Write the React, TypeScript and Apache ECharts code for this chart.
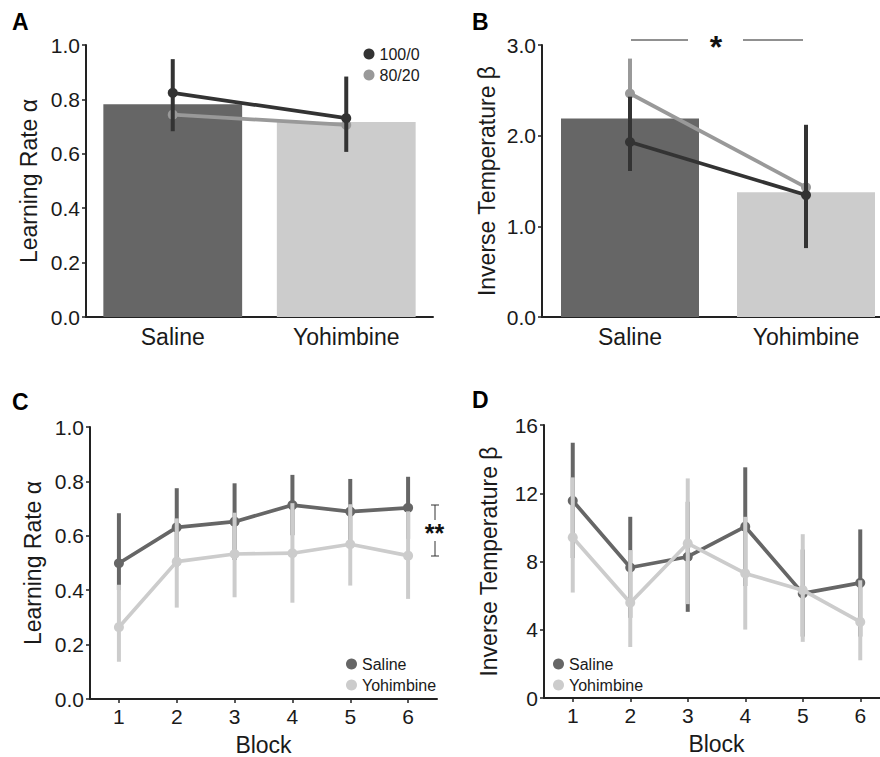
import React, { useEffect, useRef } from "react";
import * as echarts from "echarts";

// ---- Data ----
const groups = ["Saline", "Yohimbine"];
const blocks = ["1", "2", "3", "4", "5", "6"];

// Panel A: learning rate
const alphaBar = [0.782, 0.717];
const alpha100 = [0.824, 0.731];
const alpha100Low = [0.683, 0.607];
const alpha100High = [0.948, 0.884];
const alpha8020 = [0.744, 0.706];

// Panel B: inverse temperature
const betaBar = [2.19, 1.375];
const beta100 = [1.93, 1.345];
const beta100Low = [1.61, 0.76];
const beta100High = [2.43, 2.12];
const beta8020 = [2.465, 1.43];
const beta8020Low = [2.08, 1.0];
const beta8020High = [2.85, 1.86];

// Panel C: learning rate by block
const alphaSal = [0.499, 0.631, 0.652, 0.713, 0.689, 0.703];
const alphaSalLow = [0.4, 0.487, 0.511, 0.602, 0.569, 0.589];
const alphaSalHigh = [0.683, 0.775, 0.793, 0.824, 0.809, 0.817];
const alphaYoh = [0.264, 0.505, 0.533, 0.536, 0.569, 0.527];
const alphaYohLow = [0.137, 0.336, 0.374, 0.354, 0.417, 0.368];
const alphaYohHigh = [0.42, 0.664, 0.685, 0.72, 0.716, 0.69];

// Panel D: inverse temperature by block
const betaSal = [11.56, 7.65, 8.28, 10.04, 6.13, 6.75];
const betaSalLow = [8.2, 4.7, 5.05, 6.56, 3.6, 3.6];
const betaSalHigh = [14.96, 10.62, 11.5, 13.52, 8.7, 9.88];
const betaYoh = [9.41, 5.58, 9.06, 7.3, 6.32, 4.46];
const betaYohLow = [6.18, 2.99, 5.5, 4.01, 3.29, 2.21];
const betaYohHigh = [12.93, 8.67, 12.87, 10.62, 9.6, 6.9];

// ---- Styles ----
const DARK_BAR = "#666666";
const LIGHT_BAR = "#cccccc";
const C100 = "#333333";
const C8020 = "#999999";
const SAL = "#666666";
const YOH = "#cccccc";
const INK = "#1a1a1a";
const FONT = "Liberation Sans, Arial, sans-serif";

function errSeries(
  name: string,
  xi: number,
  low: number[],
  high: number[],
  color: string,
  z: number
) {
  return {
    name,
    type: "custom",
    xAxisIndex: xi,
    yAxisIndex: xi,
    z,
    silent: true,
    encode: { x: 0, y: [1, 2] },
    data: low.map((l, i) => [i, l, high[i]]),
    renderItem: (params: any, api: any) => {
      const x = api.value(0);
      const lo = api.coord([x, api.value(1)]);
      const hi = api.coord([x, api.value(2)]);
      return {
        type: "line",
        shape: { x1: lo[0], y1: lo[1], x2: hi[0], y2: hi[1] },
        style: { stroke: color, lineWidth: 4, lineCap: "butt" },
      };
    },
  };
}

function lineSeries(name: string, xi: number, data: number[], color: string, z: number) {
  return {
    name,
    type: "line",
    xAxisIndex: xi,
    yAxisIndex: xi,
    z,
    data,
    symbol: "circle",
    symbolSize: 10,
    itemStyle: { color },
    lineStyle: { color, width: 3.7 },
  };
}

const axisLineStyle = { show: true, lineStyle: { color: "#222", width: 2 } };

function yAxis(gi: number, max: number, interval: number, fmt: (v: number) => string, name: string, nameGap: number) {
  return {
    type: "value",
    gridIndex: gi,
    min: 0,
    max,
    interval,
    axisLine: axisLineStyle,
    axisTick: { show: true, length: 4, lineStyle: { color: "#222", width: 1.5 } },
    splitLine: { show: false },
    axisLabel: { color: INK, fontSize: 21, fontFamily: FONT, margin: 6, formatter: fmt },
    name,
    nameLocation: "middle",
    nameGap,
    nameTextStyle: { color: INK, fontSize: 23, fontFamily: FONT },
  };
}

function catAxis(gi: number, data: string[], ticks: boolean, fontSize: number, name?: string) {
  return {
    type: "category",
    gridIndex: gi,
    data,
    boundaryGap: true,
    axisLine: axisLineStyle,
    axisTick: ticks
      ? { show: true, alignWithLabel: true, length: 4, lineStyle: { color: "#222", width: 1.5 } }
      : { show: false },
    axisLabel: { color: INK, fontSize, fontFamily: FONT, margin: ticks ? 7 : 8 },
    splitLine: { show: false },
    name: name || "",
    nameLocation: "middle",
    nameGap: 34,
    nameTextStyle: { color: INK, fontSize: 23, fontFamily: FONT },
  };
}

const legendBase = {
  orient: "vertical",
  icon: "circle",
  itemWidth: 11,
  itemHeight: 11,
  itemGap: 5,
  selectedMode: false,
  textStyle: { color: INK, fontSize: 16, fontFamily: FONT },
};

export default function App() {
  const ref = useRef<HTMLDivElement>(null);
  useEffect(() => {
    if (!ref.current) return;
    const chart = echarts.init(ref.current, undefined, { renderer: "svg" });
    const f1 = (v: number) => v.toFixed(1);
    const f0 = (v: number) => String(Math.round(v));
    const option: any = {
      animation: false,
      backgroundColor: "#ffffff",
      textStyle: { fontFamily: FONT },
      grid: [
        { left: 86, top: 45, width: 347, height: 272 },
        { left: 542, top: 45, width: 352, height: 272 },
        { left: 90, top: 427, width: 347, height: 272 },
        { left: 544, top: 425, width: 345, height: 273 },
      ],
      xAxis: [
        catAxis(0, groups, false, 23),
        catAxis(1, groups, false, 23),
        catAxis(2, blocks, true, 21, "Block"),
        catAxis(3, blocks, true, 21, "Block"),
      ],
      yAxis: [
        yAxis(0, 1, 0.2, f1, "Learning Rate α", 46),
        yAxis(1, 3, 1, f1, "Inverse Temperature β", 44),
        yAxis(2, 1, 0.2, f1, "Learning Rate α", 46),
        yAxis(3, 16, 4, f0, "Inverse Temperature β", 44),
      ],
      legend: [
        { ...legendBase, left: 358.5, top: 41, data: ["100/0", "80/20"] },
        { ...legendBase, left: 341, top: 651, data: ["Saline", "Yohimbine"] },
        { ...legendBase, left: 548, top: 651, data: ["Saline", "Yohimbine"] },
      ],
      series: [
        {
          name: "bars A",
          type: "bar",
          xAxisIndex: 0,
          yAxisIndex: 0,
          z: 1,
          barCategoryGap: "20%",
          data: alphaBar.map((v, i) => ({ value: v, itemStyle: { color: i === 0 ? DARK_BAR : LIGHT_BAR } })),
        },
        lineSeries("80/20", 0, alpha8020, C8020, 3),
        errSeries("err A 100/0", 0, alpha100Low, alpha100High, C100, 4),
        lineSeries("100/0", 0, alpha100, C100, 5),

        {
          name: "bars B",
          type: "bar",
          xAxisIndex: 1,
          yAxisIndex: 1,
          z: 1,
          barWidth: 138,
          data: betaBar.map((v, i) => ({ value: v, itemStyle: { color: i === 0 ? DARK_BAR : LIGHT_BAR } })),
        },
        errSeries("err B 80/20", 1, beta8020Low, beta8020High, C8020, 2),
        lineSeries("80/20", 1, beta8020, C8020, 3),
        errSeries("err B 100/0", 1, beta100Low, beta100High, C100, 4),
        lineSeries("100/0", 1, beta100, C100, 5),

        errSeries("err C sal", 2, alphaSalLow, alphaSalHigh, SAL, 2),
        lineSeries("Saline", 2, alphaSal, SAL, 3),
        errSeries("err C yoh", 2, alphaYohLow, alphaYohHigh, YOH, 4),
        lineSeries("Yohimbine", 2, alphaYoh, YOH, 5),

        errSeries("err D sal", 3, betaSalLow, betaSalHigh, SAL, 2),
        lineSeries("Saline", 3, betaSal, SAL, 3),
        errSeries("err D yoh", 3, betaYohLow, betaYohHigh, YOH, 4),
        lineSeries("Yohimbine", 3, betaYoh, YOH, 5),
      ],
      graphic: [
        { type: "text", left: 12, top: 10, style: { text: "A", fontSize: 23, fontWeight: "bold", fontFamily: FONT, fill: "#000" } },
        { type: "text", left: 472, top: 10, style: { text: "B", fontSize: 23, fontWeight: "bold", fontFamily: FONT, fill: "#000" } },
        { type: "text", left: 12, top: 390, style: { text: "C", fontSize: 23, fontWeight: "bold", fontFamily: FONT, fill: "#000" } },
        { type: "text", left: 472, top: 388, style: { text: "D", fontSize: 23, fontWeight: "bold", fontFamily: FONT, fill: "#000" } },
        // significance in B
        { type: "line", shape: { x1: 631, y1: 40, x2: 688, y2: 40 }, style: { stroke: "#222", lineWidth: 1 } },
        { type: "line", shape: { x1: 743, y1: 40, x2: 803, y2: 40 }, style: { stroke: "#222", lineWidth: 1 } },
        { type: "text", x: 716, y: 47, style: { text: "*", fontSize: 32, fontWeight: "bold", fontFamily: FONT, fill: "#111", align: "center", verticalAlign: "middle" } },
        // significance in C
        { type: "line", shape: { x1: 431, y1: 505, x2: 439, y2: 505 }, style: { stroke: "#333", lineWidth: 1 } },
        { type: "line", shape: { x1: 435, y1: 505, x2: 435, y2: 520 }, style: { stroke: "#333", lineWidth: 1 } },
        { type: "line", shape: { x1: 435, y1: 541, x2: 435, y2: 556 }, style: { stroke: "#333", lineWidth: 1 } },
        { type: "line", shape: { x1: 431, y1: 556, x2: 439, y2: 556 }, style: { stroke: "#333", lineWidth: 1 } },
        { type: "text", x: 434.5, y: 533, style: { text: "**", fontSize: 25, fontWeight: "bold", fontFamily: FONT, fill: "#111", align: "center", verticalAlign: "middle" } },
      ],
    };
    chart.setOption(option);
    return () => chart.dispose();
  }, []);
  return (
    <div style={{ position: "absolute", left: 0, top: 0, width: 880, height: 757, overflow: "hidden", background: "#fff" }}>
      <div ref={ref} style={{ position: "absolute", left: 0, top: 0, width: 900, height: 757 }} />
    </div>
  );
}
